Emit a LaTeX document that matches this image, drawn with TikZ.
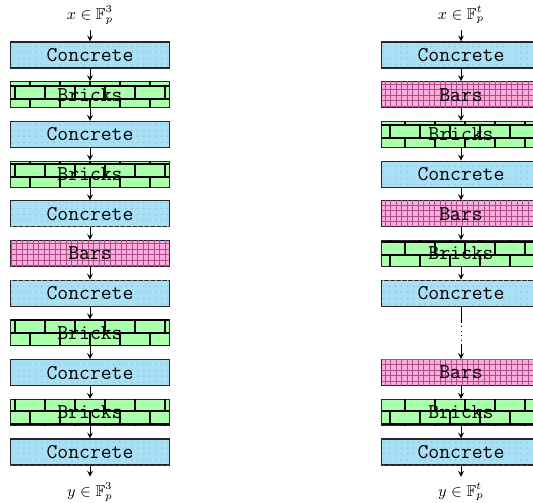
\documentclass[tikz,border=0pt]{standalone}
\usepackage{amssymb}
\usetikzlibrary{patterns}

\definecolor{concretecol}{RGB}{170,224,245}
\definecolor{concretedot}{RGB}{140,192,220}
\definecolor{brickcol}{RGB}{170,255,170}
\definecolor{barcol}{RGB}{250,170,220}
\definecolor{barline}{RGB}{170,80,135}

% パターン
\pgfdeclarepatternformonly{brickwall}{\pgfpoint{-1pt}{-1pt}}{\pgfpoint{18pt}{16pt}}{\pgfpoint{17.07pt}{14.8pt}}{%
  \pgfsetlinewidth{1.1pt}
  \pgfpathmoveto{\pgfpoint{-1pt}{0pt}}\pgfpathlineto{\pgfpoint{18pt}{0pt}}
  \pgfpathmoveto{\pgfpoint{-1pt}{7.4pt}}\pgfpathlineto{\pgfpoint{18pt}{7.4pt}}
  \pgfpathmoveto{\pgfpoint{0pt}{0pt}}\pgfpathlineto{\pgfpoint{0pt}{7.4pt}}
  \pgfpathmoveto{\pgfpoint{8.535pt}{7.4pt}}\pgfpathlineto{\pgfpoint{8.535pt}{14.8pt}}
  \pgfusepath{stroke}}
\pgfdeclarepatternformonly{bargrid}{\pgfpoint{-0.5pt}{-0.5pt}}{\pgfpoint{3.6pt}{3.6pt}}{\pgfpoint{3.13pt}{3.13pt}}{%
  \pgfsetlinewidth{0.4pt}
  \pgfpathmoveto{\pgfpoint{-0.5pt}{0pt}}\pgfpathlineto{\pgfpoint{3.6pt}{0pt}}
  \pgfpathmoveto{\pgfpoint{0pt}{-0.5pt}}\pgfpathlineto{\pgfpoint{0pt}{3.6pt}}
  \pgfusepath{stroke}}
\pgfdeclarepatternformonly{concretedots}{\pgfpoint{-1pt}{-1pt}}{\pgfpoint{1pt}{1pt}}{\pgfpoint{3.41pt}{3.41pt}}{%
  \pgfpathcircle{\pgfpoint{0pt}{0pt}}{0.45pt}
  \pgfusepath{fill}}

\tikzset{
  layer/.style={draw=black!85, line width=0.6pt, rectangle, minimum width=3.18cm, minimum height=0.52cm, inner sep=0pt, font=\ttfamily\large},
  concrete/.style={layer, fill=concretecol, postaction={pattern=concretedots, pattern color=concretedot}},
  bricks/.style={layer, fill=brickcol, postaction={pattern=brickwall, pattern color=black}},
  bars/.style={layer, fill=barcol, postaction={pattern=bargrid, pattern color=barline}},
  flow/.style={-stealth, line width=0.5pt}
}

\begin{document}
\begin{tikzpicture}
	\clip (0,0) rectangle (10.66,-10.04);
	\useasboundingbox (0,0) rectangle (10.66,-10.04);

	% 左の列
	\node (Lin) at (1.8,-0.30) {\small $x \in \mathbb{F}_p^3$};
	\node[concrete] (L1) at (1.8,-1.100) {Concrete};
	\node[bricks] (L2) at (1.8,-1.894) {Bricks};
	\node[concrete] (L3) at (1.8,-2.688) {Concrete};
	\node[bricks] (L4) at (1.8,-3.482) {Bricks};
	\node[concrete] (L5) at (1.8,-4.276) {Concrete};
	\node[bars] (L6) at (1.8,-5.070) {Bars};
	\node[concrete] (L7) at (1.8,-5.864) {Concrete};
	\node[bricks] (L8) at (1.8,-6.658) {Bricks};
	\node[concrete] (L9) at (1.8,-7.452) {Concrete};
	\node[bricks] (L10) at (1.8,-8.246) {Bricks};
	\node[concrete] (L11) at (1.8,-9.040) {Concrete};
	\node (Lout) at (1.8,-9.84) {\small $y \in \mathbb{F}_p^3$};

	% 右の列
	\node (Rin) at (9.22,-0.30) {\small $x \in \mathbb{F}_p^t$};
	\node[concrete] (R1) at (9.22,-1.100) {Concrete};
	\node[bars] (R2) at (9.22,-1.894) {Bars};
	\node[bricks] (R3) at (9.22,-2.688) {Bricks};
	\node[concrete] (R4) at (9.22,-3.482) {Concrete};
	\node[bars] (R5) at (9.22,-4.276) {Bars};
	\node[bricks] (R6) at (9.22,-5.070) {Bricks};
	\node[concrete] (R7) at (9.22,-5.864) {Concrete};
	\coordinate (D1) at (9.22,-6.44);
	\coordinate (D2) at (9.22,-6.90);
	\node[bars] (R8) at (9.22,-7.452) {Bars};
	\node[bricks] (R9) at (9.22,-8.246) {Bricks};
	\node[concrete] (R10) at (9.22,-9.040) {Concrete};
	\node (Rout) at (9.22,-9.84) {\small $y \in \mathbb{F}_p^t$};

	% 矢印
	\draw[flow] (Lin) -- (L1);
	\draw[flow] (L1) -- (L2);
	\draw[flow] (L2) -- (L3);
	\draw[flow] (L3) -- (L4);
	\draw[flow] (L4) -- (L5);
	\draw[flow] (L5) -- (L6);
	\draw[flow] (L6) -- (L7);
	\draw[flow] (L7) -- (L8);
	\draw[flow] (L8) -- (L9);
	\draw[flow] (L9) -- (L10);
	\draw[flow] (L10) -- (L11);
	\draw[flow] (L11) -- (Lout);

	\draw[flow] (Rin) -- (R1);
	\draw[flow] (R1) -- (R2);
	\draw[flow] (R2) -- (R3);
	\draw[flow] (R3) -- (R4);
	\draw[flow] (R4) -- (R5);
	\draw[flow] (R5) -- (R6);
	\draw[flow] (R6) -- (R7);
	\draw[line width=0.5pt] (R7) -- (D1);
	\draw[line width=0.5pt, dotted] (D1) -- (D2);
	\draw[flow] (D2) -- (R8);
	\draw[flow] (R8) -- (R9);
	\draw[flow] (R9) -- (R10);
	\draw[flow] (R10) -- (Rout);
\end{tikzpicture}
\end{document}
